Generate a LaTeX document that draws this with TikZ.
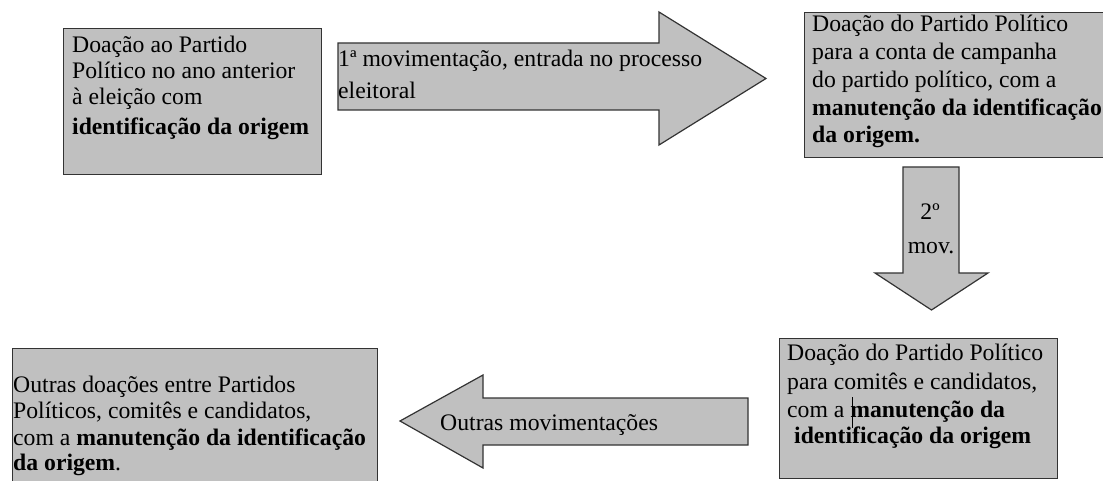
\documentclass[tikz,border=0pt]{standalone}
\usepackage{fontspec}
\setmainfont{Liberation Serif}
\definecolor{boxgray}{HTML}{C0C0C0}
\definecolor{edgegray}{HTML}{333333}
\tikzset{
  panel/.style={draw=edgegray, fill=boxgray, line width=1.2pt, inner sep=0pt},
  blockarrow/.style={draw=edgegray, fill=boxgray, line width=1.2pt, line join=miter},
  txt/.style={inner sep=0pt, anchor=base west, font=\fontsize{23.7}{27}\selectfont},
}
\begin{document}
\begin{tikzpicture}[x=1pt,y=-1pt]
\useasboundingbox (0,0) rectangle (1103,481);
\clip (0,0) rectangle (1103,481);
% boxes
\node[panel, minimum width=258pt, minimum height=146pt, anchor=north west] (b1) at (63,28) {};
\node[panel, minimum width=306pt, minimum height=145pt, anchor=north west] (b2) at (804,12) {};
\node[panel, minimum width=278pt, minimum height=140pt, anchor=north west] (b3) at (779,338) {};
\node[panel, minimum width=365pt, minimum height=150pt, anchor=north west] (b4) at (12,348) {};
% block arrows
\draw[blockarrow] (338,43) -- (659,43) -- (659,12) -- (766,78.5) -- (659,145) -- (659,110) -- (338,110) -- cycle;
\draw[blockarrow] (903,167) -- (959,167) -- (959,273) -- (988,273) -- (931.5,310) -- (875,273) -- (903,273) -- cycle;
\draw[blockarrow] (748,398) -- (483,398) -- (483,375) -- (400,421) -- (483,468) -- (483,445) -- (748,445) -- cycle;
% box 1 text
\node[txt] (t11) at (72,53) {Doação ao Partido};
\node[txt] (t12) at (72,79) {Político no ano anterior};
\node[txt] (t13) at (72,105) {à eleição com};
\node[txt] (t14) at (72,135) {\bfseries identificação da origem};
% arrow 1 text
\node[txt] (a11) at (338,67) {1ª movimentação, entrada no processo};
\node[txt] (a12) at (338,99) {eleitoral};
% box 2 text
\node[txt] (t21) at (812,32) {Doação do Partido Político};
\node[txt] (t22) at (812,60) {para a conta de campanha};
\node[txt] (t23) at (812,88) {do partido político, com a};
\node[txt] (t24) at (812,116) {\bfseries manutenção da identificação};
\node[txt] (t25) at (812,143) {\bfseries da origem.};
% down arrow text
\node[txt, anchor=base] (a21) at (930,219) {2º};
\node[txt, anchor=base] (a22) at (931,254) {mov.};
% box 3 text
\node[txt] (t31) at (787,360) {Doação do Partido Político};
\node[txt] (t32) at (787,389) {para comitês e candidatos,};
\node[txt] (t33) at (787,417) {com a \bfseries manutenção da};
\node[txt] (t34) at (794,443) {\bfseries identificação da origem};
\coordinate (cur1) at (852,397);
\coordinate (cur2) at (852,428);
\draw[line width=1pt] (cur1) -- (cur2);
% arrow 3 text
\node[txt] (a31) at (440,430) {Outras movimentações};
% box 4 text
\node[txt] (t41) at (13,392) {Outras doações entre Partidos};
\node[txt] (t42) at (13,418) {Políticos, comitês e candidatos,};
\node[txt] (t43) at (13,445) {com a \textbf{manutenção da identificação}};
\node[txt] (t44) at (13,470) {\textbf{da origem}.};
\end{tikzpicture}
\end{document}
